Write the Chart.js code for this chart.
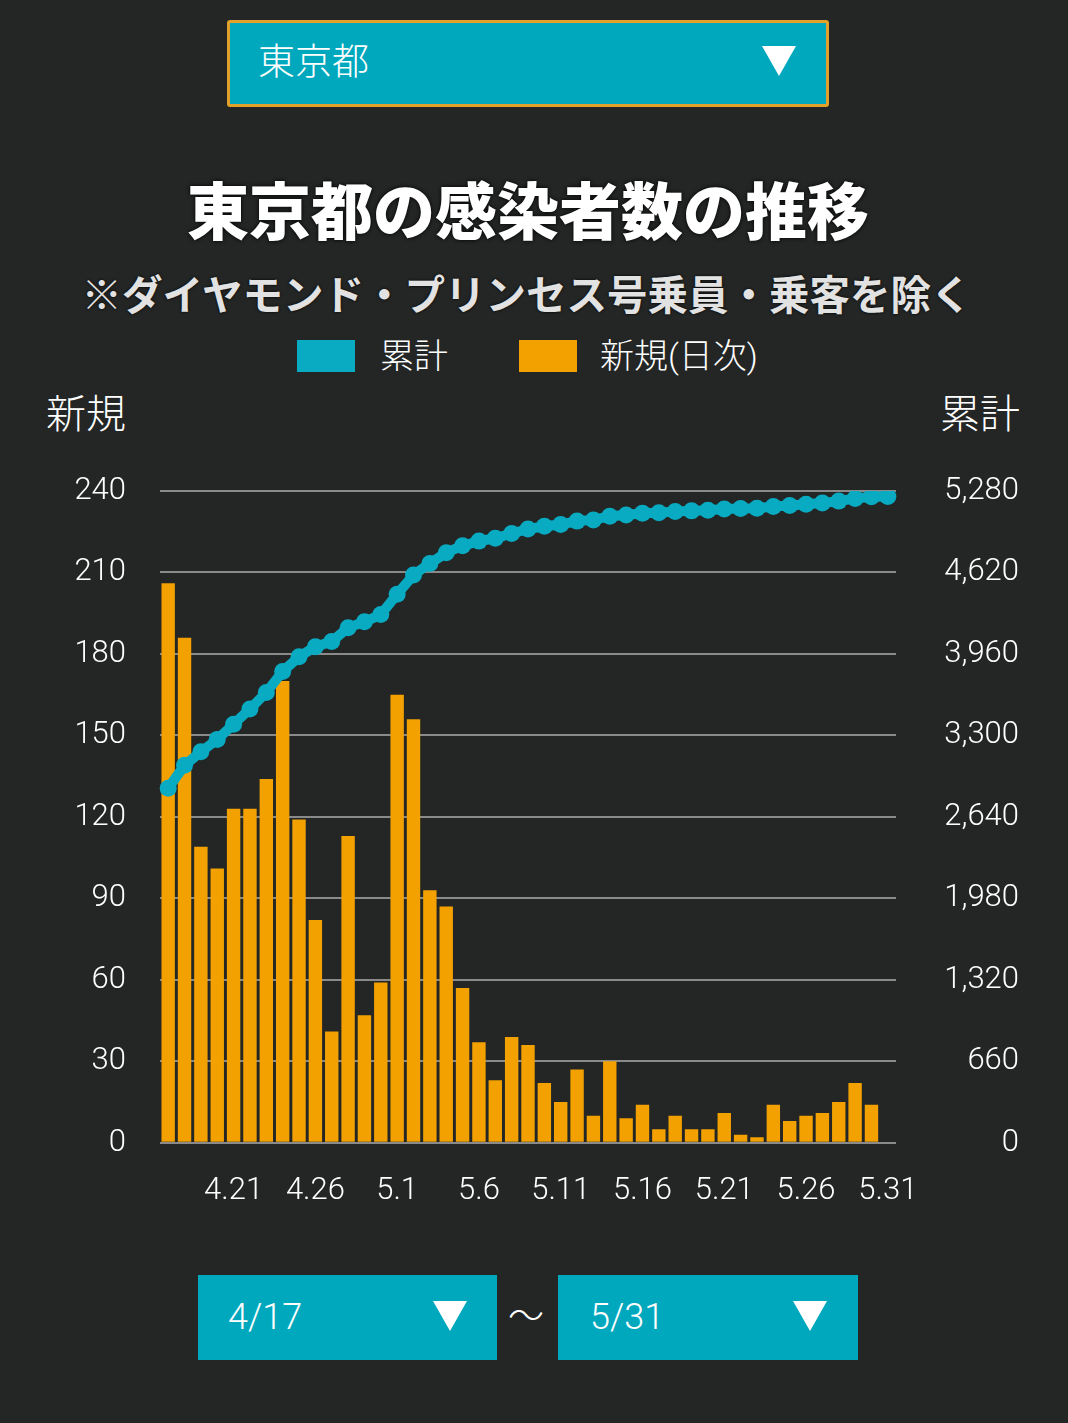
<!DOCTYPE html>
<html lang="ja">
<head>
<meta charset="utf-8">
<script src="https://cdn.jsdelivr.net/npm/chart.js@4.4.1/dist/chart.umd.min.js"></script>
<style>
html,body{margin:0;padding:0;background:#232625;}
body{width:1068px;height:1423px;position:relative;overflow:hidden;font-family:Roboto,"Noto Sans CJK JP",sans-serif;color:#fff;}
.abs{position:absolute;white-space:nowrap;}
.dd{position:absolute;background:#00a8bd;box-sizing:border-box;}
.tri{position:absolute;width:0;height:0;border-left:17px solid transparent;border-right:17px solid transparent;border-top:30px solid #fff;}
.sw{position:absolute;width:58px;height:32px;}
#wrap{position:absolute;left:0;top:430px;width:1068px;height:830px;}
</style>
</head>
<body>
<!-- prefecture selector -->
<div class="dd" style="left:227px;top:20px;width:602px;height:87px;border:3px solid #e0a22a;border-radius:3px;"></div>
<div class="abs" style="left:258px;top:44px;font-size:37px;line-height:38px;font-weight:300;">東京都</div>
<div class="tri" style="left:762px;top:46px;"></div>

<!-- titles -->
<div class="abs" style="left:0;width:1056px;text-align:center;top:176px;font-size:62px;line-height:64px;font-weight:900;font-family:'Noto Sans CJK JP',sans-serif;text-shadow:0 0 4px #000;">東京都の感染者数の推移</div>
<div class="abs" style="left:0;width:1053px;text-align:center;top:272px;font-size:40.5px;line-height:42px;font-weight:700;color:#e2e2e2;font-family:'Noto Sans CJK JP',sans-serif;text-shadow:0 0 3px #000;">※ダイヤモンド・プリンセス号乗員・乗客を除く</div>

<!-- legend -->
<div class="sw" style="left:297px;top:340px;background:#08abc2;"></div>
<div class="abs" style="left:380px;top:338px;font-size:34px;line-height:36px;font-weight:300;">累計</div>
<div class="sw" style="left:519px;top:340px;background:#f2a100;"></div>
<div class="abs" style="left:600px;top:338px;font-size:34px;line-height:36px;font-weight:300;">新規(日次)</div>

<!-- axis titles -->
<div class="abs" style="left:46px;top:395px;font-size:40px;line-height:40px;font-weight:300;">新規</div>
<div class="abs" style="left:940px;top:395px;font-size:40px;line-height:40px;font-weight:300;">累計</div>

<div id="wrap"><canvas id="c"></canvas></div>

<!-- date range selectors -->
<div class="dd" style="left:198px;top:1275px;width:299px;height:85px;"></div>
<div class="abs" style="left:228px;top:1298px;font-size:36px;line-height:38px;font-weight:300;">4/17</div>
<div class="tri" style="left:433px;top:1301px;"></div>
<div class="abs" style="left:508px;top:1297px;font-size:36px;line-height:40px;font-weight:300;">～</div>
<div class="dd" style="left:558px;top:1275px;width:300px;height:85px;"></div>
<div class="abs" style="left:590px;top:1298px;font-size:36px;line-height:38px;font-weight:300;">5/31</div>
<div class="tri" style="left:793px;top:1301px;"></div>

<script>
const dates = ['4.17','4.18','4.19','4.20','4.21','4.22','4.23','4.24','4.25','4.26','4.27','4.28','4.29','4.30',
  '5.1','5.2','5.3','5.4','5.5','5.6','5.7','5.8','5.9','5.10','5.11','5.12','5.13','5.14','5.15','5.16',
  '5.17','5.18','5.19','5.20','5.21','5.22','5.23','5.24','5.25','5.26','5.27','5.28','5.29','5.30','5.31'];
const shownDates = ['4.21','4.26','5.1','5.6','5.11','5.16','5.21','5.26','5.31'];
const newCases = [206,186,109,101,123,123,134,170,119,82,41,113,47,59,
  165,156,93,87,57,37,23,39,36,22,15,27,10,30,9,14,
  5,10,5,5,11,3,2,14,8,10,11,15,22,14,null];
const cumulative = [2872,3058,3167,3268,3391,3514,3648,3818,3937,4019,4060,4173,4220,4279,
  4444,4600,4693,4780,4837,4874,4897,4936,4972,4994,5009,5036,5046,5076,5085,5099,
  5104,5114,5119,5124,5135,5138,5140,5154,5162,5172,5183,5198,5220,5234,5236];
const seriesNames = ['累計','新規(日次)'];

const TEAL = '#08abc2', ORANGE = '#f2a100';
Chart.defaults.font.family = 'Roboto, "Noto Sans CJK JP", sans-serif';
Chart.defaults.color = '#ffffff';

new Chart(document.getElementById('c'), {
  type: 'bar',
  data: {
    labels: dates,
    datasets: [
      {
        type: 'line', label: seriesNames[0], data: cumulative, yAxisID: 'y1', order: 0,
        borderColor: TEAL, backgroundColor: TEAL, borderWidth: 10, tension: 0,
        pointRadius: 8.5, pointBackgroundColor: TEAL, pointBorderWidth: 0, pointHoverRadius: 8.5
      },
      {
        type: 'bar', label: seriesNames[1], data: newCases, yAxisID: 'y', order: 1,
        backgroundColor: ORANGE, borderWidth: 0, categoryPercentage: 1.0, barPercentage: 0.82
      }
    ]
  },
  options: {
    responsive: true, maintainAspectRatio: false, animation: false,
    layout: { padding: { top: 61, bottom: 20, left: 37, right: 49 } },
    plugins: { legend: { display: false }, tooltip: { enabled: false }, title: { display: false } },
    scales: {
      x: {
        offset: true,
        grid: { display: false, drawTicks: false },
        border: { display: false },
        ticks: {
          autoSkip: false, maxRotation: 0, minRotation: 0, padding: 30,
          font: { size: 31, weight: 300 }, color: '#ffffff',
          callback: function(v, i) { const l = dates[i]; return shownDates.includes(l) ? l : ''; }
        }
      },
      y: {
        position: 'left', min: 0, max: 240,
        grid: { color: '#8a8a8a', lineWidth: 2, drawTicks: false },
        border: { display: false },
        ticks: { stepSize: 30, padding: 34, font: { size: 31, weight: 300 }, color: '#ffffff' },
        afterFit: function(s) { s.width = 123; }
      },
      y1: {
        position: 'right', min: 0, max: 5280,
        grid: { display: false, drawTicks: false },
        border: { display: false },
        ticks: {
          stepSize: 660, crossAlign: 'far', padding: 30, font: { size: 31, weight: 300 }, color: '#ffffff',
          callback: function(v) { return v.toLocaleString('en-US'); }
        },
        afterFit: function(s) { s.width = 123; }
      }
    }
  }
});
</script>
</body>
</html>
